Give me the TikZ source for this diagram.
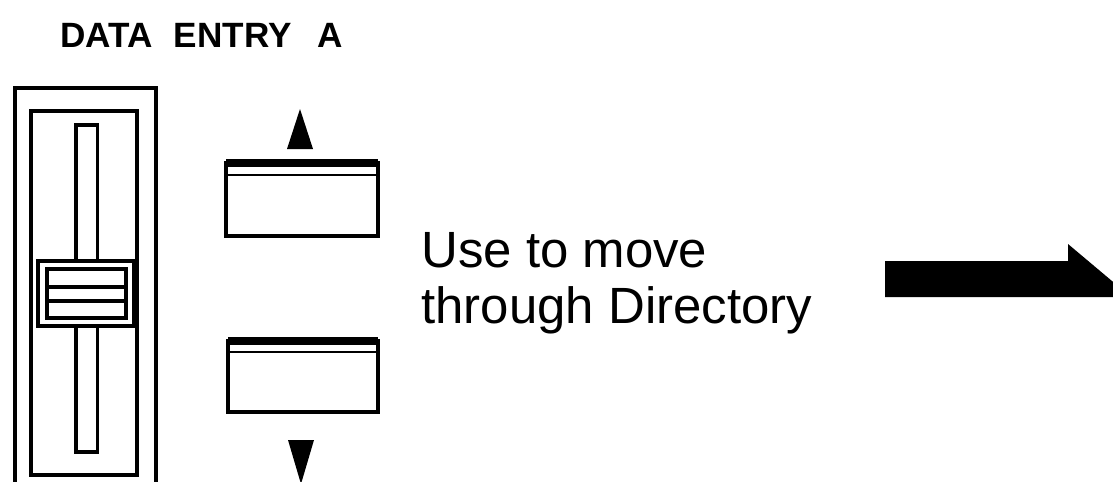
\documentclass[tikz,border=0pt]{standalone}
\usepackage{fontspec}
\setmainfont{Liberation Sans}
\tikzset{
  casing/.style={draw, line width=2.3pt},
  slotline/.style={draw, line width=2pt},
  keybox/.style={draw, line width=2.2pt},
  keytop/.style={draw, line width=4pt},
  keyline/.style={draw, line width=1.6pt},
  tip/.style={fill=black},
  lbl/.style={font=\bfseries\fontsize{20}{20}\selectfont, inner sep=0pt},
  note/.style={font=\fontsize{29}{29}\selectfont, inner sep=0pt},
}
\begin{document}
\begin{tikzpicture}[x=0.02cm,y=-0.02cm]
  \useasboundingbox (0,0) rectangle (1113,481);
  \clip (0,0) rectangle (1113,481);
  % --- slider ---
  \draw[casing] (15,88) rectangle (156,500);
  \draw[casing] (31,111) rectangle (137,475);
  \draw[slotline] (76,125) rectangle (97.5,452);
  \draw[casing, fill=white] (38,261) rectangle (134,326);
  \draw[slotline] (47,269) rectangle (126,318);
  \draw[slotline] (47,287) -- (126,287);
  \draw[slotline] (47,301) -- (126,301);
  % --- up / down keys ---
  \draw[keybox] (226,163) rectangle (378,236);
  \draw[keytop] (226,163) -- (378,163);
  \draw[keyline] (226,175) -- (378,175);
  \draw[keybox] (228,341) rectangle (378,412);
  \draw[keytop] (228,341) -- (378,341);
  \draw[keyline] (228,352) -- (378,352);
  \fill[tip] (300,109) -- (313,149) -- (287,149) -- cycle;
  \fill[tip] (288,440) -- (314,440) -- (301,484) -- cycle;
  % --- texts ---
  \node[lbl, anchor=base west] (title) at (60,47)
    {DATA\hspace{0.6em}ENTRY\hspace{0.75em}A};
  \node[note, anchor=base west] (use1) at (421,267) {Use to move};
  \node[note, anchor=base west] (use2) at (421,323) {through Directory};
  % --- big arrow ---
  \fill (885,261) -- (1068,261) -- (1068,244) -- (1131,297) -- (885,297) -- cycle;
\end{tikzpicture}
\end{document}
